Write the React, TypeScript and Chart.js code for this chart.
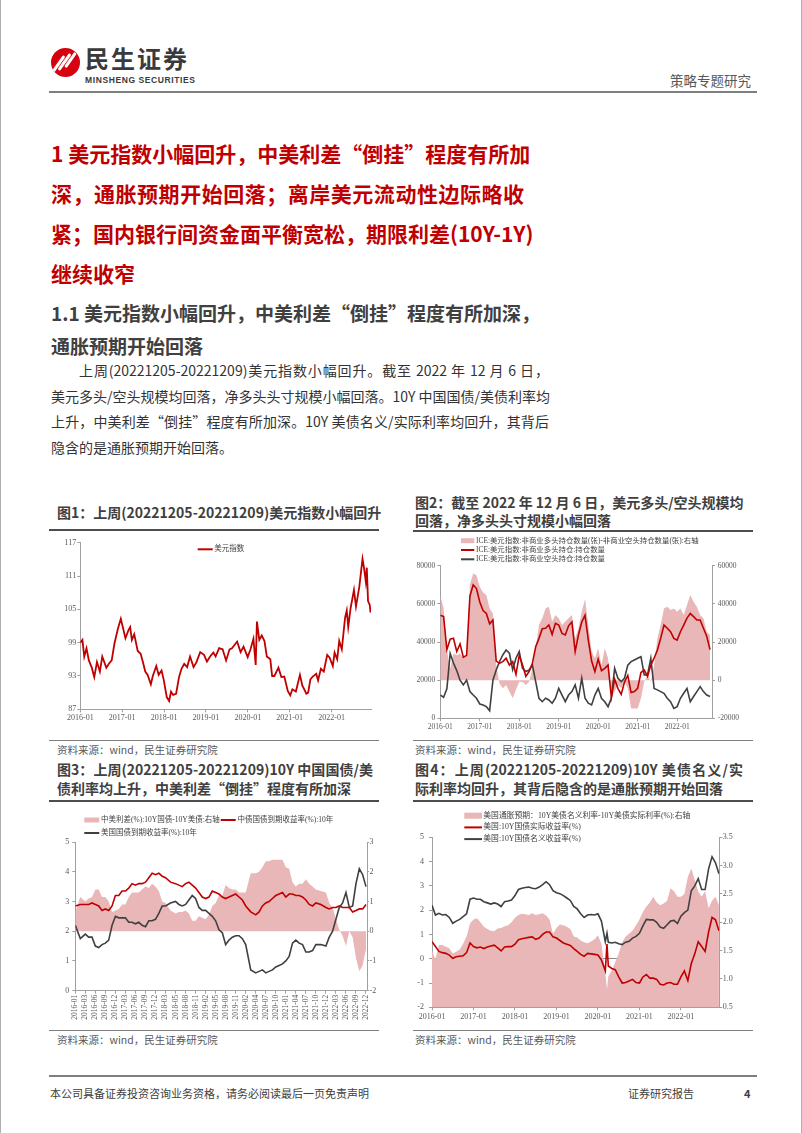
import React, { useEffect, useRef } from 'react';
import { Chart, registerables } from 'chart.js';

Chart.register(...registerables);

// ---------------- data ----------------
const yearTickLabels = ['2016-01', '2017-01', '2018-01', '2019-01', '2020-01', '2021-01', '2022-01'];

// Chart 1: US dollar index
const dxyLabel = '美元指数';
const dxyDates = [
  '2016-01-01', '2016-01-20', '2016-02-05', '2016-02-25', '2016-03-15', '2016-04-10', '2016-05-01', '2016-05-25',
  '2016-06-20', '2016-07-10', '2016-08-15', '2016-09-10', '2016-10-01', '2016-10-25', '2016-11-25', '2016-12-20',
  '2017-01-10', '2017-01-30', '2017-02-25', '2017-03-10', '2017-03-25', '2017-04-15', '2017-05-15', '2017-06-10',
  '2017-06-30', '2017-07-20', '2017-08-10', '2017-09-08', '2017-09-25', '2017-10-25', '2017-11-15', '2017-12-10',
  '2017-12-30', '2018-01-25', '2018-02-15', '2018-03-01', '2018-03-20', '2018-04-15', '2018-05-10', '2018-06-01',
  '2018-06-25', '2018-07-20', '2018-08-15', '2018-09-15', '2018-10-10', '2018-11-12', '2018-12-15', '2019-01-10',
  '2019-02-10', '2019-03-05', '2019-03-25', '2019-04-25', '2019-05-25', '2019-06-25', '2019-07-25', '2019-08-15',
  '2019-09-30', '2019-10-30', '2019-11-25', '2019-12-31', '2020-01-25', '2020-02-20', '2020-03-09', '2020-03-20',
  '2020-04-10', '2020-05-01', '2020-05-25', '2020-06-15', '2020-07-15', '2020-07-31', '2020-08-20', '2020-09-25',
  '2020-10-20', '2020-11-15', '2020-12-15', '2021-01-06', '2021-01-25', '2021-02-25', '2021-03-30', '2021-04-20',
  '2021-05-25', '2021-06-10', '2021-06-30', '2021-07-20', '2021-08-20', '2021-09-05', '2021-09-30', '2021-10-25',
  '2021-11-24', '2021-12-15', '2022-01-12', '2022-01-28', '2022-02-20', '2022-03-07', '2022-03-30', '2022-04-28',
  '2022-05-12', '2022-05-25', '2022-06-15', '2022-07-14', '2022-08-01', '2022-08-30', '2022-09-28', '2022-10-10',
  '2022-10-26', '2022-11-04', '2022-11-15', '2022-11-30', '2022-12-05', '2022-12-09',
];
const dxyValues = [
  99.0, 99.5, 96.5, 98.0, 95.8, 94.5, 92.8, 95.5,
  93.8, 96.5, 94.5, 95.3, 95.8, 98.8, 101.5, 103.3,
  101.5, 99.8, 101.2, 101.8, 99.5, 100.5, 97.5, 97.0,
  95.5, 93.8, 93.2, 91.5, 93.0, 94.8, 93.2, 94.0,
  92.2, 89.2, 88.5, 90.2, 89.6, 89.8, 92.8, 94.3,
  95.2, 94.6, 96.5, 94.6, 95.5, 97.3, 96.8, 95.6,
  96.6, 97.2, 96.5, 98.0, 97.8, 95.8, 97.8, 98.0,
  99.2, 97.3, 98.3, 96.4, 97.8, 99.7, 95.0, 102.8,
  99.5, 100.3, 99.3, 96.5, 96.0, 93.0, 93.0, 94.5,
  92.8, 92.9, 90.3, 89.5, 90.6, 90.2, 93.2, 91.3,
  89.8, 90.0, 92.4, 92.9, 93.4, 92.2, 94.3, 93.8,
  96.8, 96.3, 94.8, 97.2, 96.0, 99.3, 97.8, 103.5,
  104.8, 101.8, 105.2, 108.5, 105.5, 109.0, 114.1, 112.5,
  110.0, 112.5, 106.5, 105.8, 104.6, 105.0,
];
const dxyTicks = [87, 93, 99, 105, 111, 117];

// Chart 2: ICE dollar index positions (monthly from 2016-01)
const cotLabels = [
  'ICE:美元指数:非商业多头持仓数量(张)-非商业空头持仓数量(张):右轴',
  'ICE:美元指数:非商业多头持仓:持仓数量',
  'ICE:美元指数:非商业空头持仓:持仓数量',
];
const cotLong = [
  54000, 53300, 36000, 41500, 42000, 35000, 39000, 32000, 33000, 64000,
  70000, 68000, 61000, 56500, 55000, 49500, 51500, 30000, 28800, 29700,
  31500, 27900, 29700, 23000, 33000, 28000, 22000, 24500, 28800, 37500,
  41900, 47000, 47200, 48900, 44000, 49800, 48900, 44500, 43700, 48500,
  50500, 35000, 43700, 50500, 54000, 41000, 30000, 24500, 31000, 25000,
  26200, 27900, 11000, 20500, 15700, 12500, 19000, 22500, 13500, 14000,
  15700, 24000, 25300, 22000, 27900, 31500, 35800, 41900, 48900, 47200,
  45400, 41900, 41000, 45400, 48900, 52500, 55000, 53300, 51500, 51500,
  47200, 43000, 36000,
];
const cotShort = [
  12200, 11000, 15500, 34000, 29000, 25000, 20000, 17500, 20000, 14000,
  12200, 10500, 7500, 7000, 6100, 4000, 20000, 25300, 29700, 33200,
  35800, 34100, 25500, 31500, 35000, 26200, 24500, 25300, 27900, 19200,
  10500, 8700, 10500, 9600, 7900, 10500, 15700, 12200, 8700, 12200,
  14000, 17500, 10500, 21000, 10500, 7900, 7000, 12200, 15700, 10500,
  8700, 6100, 10500, 26200, 21000, 19200, 21000, 27900, 29700, 30600,
  31500, 32300, 22700, 22700, 31500, 15700, 14900, 14000, 13100, 10500,
  8700, 5200, 6100, 10500, 13100, 15700, 8700, 11400, 14000, 16600,
  14000, 12200, 11400,
];
const cotNet = [
  44000, 38000, 16000, 6000, 14000, 13000, 14000, 11500, 13000, 50000,
  56000, 55000, 49000, 46000, 44600, 37600, 35000, 8000, -1700, -4300,
  -2500, -6000, -9500, -5000, -800, -1000, -2500, -800, 6000, 16700,
  28900, 32400, 37600, 38500, 30700, 34200, 32400, 28900, 30700, 32400,
  34200, 21900, 27200, 35900, 42500, 28900, 15000, 11500, 16700, 8000,
  16700, 11500, -9500, -6000, -2500, -4300, -800, -4300, -14800, -14800,
  -14800, -9500, -800, 2700, -800, 8000, 21900, 28900, 37600, 38500,
  36800, 37600, 35900, 37600, 34200, 39400, 44600, 41100, 38500, 34200,
  32400, 25400, 23700,
];

// Chart 3: China / US 10Y yields (monthly from 2016-01)
const c3Labels = ['中美利差(%):10Y国债-10Y美债:右轴', '中债国债到期收益率(%):10年', '美国国债到期收益率(%):10年'];
const c3TickLabels = [
  '2016-01', '2016-03', '2016-06', '2016-09', '2016-12', '2017-03', '2017-06', '2017-09', '2017-12', '2018-03',
  '2018-05', '2018-08', '2018-11', '2019-02', '2019-05', '2019-08', '2019-11', '2020-02', '2020-04', '2020-07',
  '2020-10', '2021-01', '2021-04', '2021-07', '2021-10', '2021-12', '2022-03', '2022-06', '2022-09', '2022-12',
];
const cn10y = [
  2.85, 2.9, 2.9, 2.9, 2.95, 2.9, 2.85, 2.7, 2.75, 2.7,
  2.85, 3.2, 3.2, 3.35, 3.35, 3.45, 3.6, 3.55, 3.6, 3.6,
  3.65, 3.8, 3.95, 3.9, 3.95, 3.85, 3.8, 3.65, 3.6, 3.55,
  3.5, 3.6, 3.65, 3.55, 3.45, 3.3, 3.15, 3.1, 3.15, 3.35,
  3.3, 3.25, 3.15, 3.1, 3.15, 3.2, 3.25, 3.15, 3.05, 2.85,
  2.65, 2.55, 2.65, 2.85, 2.95, 3.0, 3.1, 3.2, 3.25, 3.3,
  3.15, 3.25, 3.25, 3.2, 3.2, 3.15, 3.05, 2.9, 2.85, 2.95,
  2.9, 2.8, 2.75, 2.8, 2.8, 2.85, 2.8, 2.8, 2.8, 2.65,
  2.7, 2.75, 2.75, 2.9,
];
const us10y = [
  2.2, 1.75, 1.9, 1.8, 1.8, 1.5, 1.45, 1.55, 1.6, 1.7,
  2.2, 2.5, 2.45, 2.45, 2.45, 2.3, 2.3, 2.25, 2.3, 2.2,
  2.15, 2.35, 2.35, 2.4, 2.6, 2.85, 2.85, 2.95, 3.0, 2.9,
  2.85, 2.9, 3.05, 3.2, 3.1, 2.8, 2.7, 2.7, 2.6, 2.5,
  2.35, 2.05, 1.95, 1.55, 1.7, 1.8, 1.85, 1.85, 1.75, 1.55,
  0.7, 0.6, 0.65, 0.7, 0.6, 0.65, 0.7, 0.8, 0.85, 0.9,
  1.0, 1.15, 1.6, 1.7, 1.6, 1.55, 1.3, 1.3, 1.35, 1.55,
  1.55, 1.5, 1.8, 2.0, 2.4, 2.8, 2.95, 3.3, 2.8, 2.85,
  3.6, 4.1, 3.9, 3.5,
];
const cnUsSpread = [
  0.65, 1.15, 1.0, 1.1, 1.15, 1.4, 1.4, 1.15, 1.15, 1.0,
  0.65, 0.7, 0.75, 0.9, 0.9, 1.15, 1.3, 1.3, 1.3, 1.4,
  1.5, 1.45, 1.6, 1.5, 1.35, 1.0, 0.95, 0.7, 0.6, 0.65,
  0.65, 0.7, 0.6, 0.35, 0.35, 0.5, 0.45, 0.4, 0.55, 0.85,
  0.95, 1.2, 1.2, 1.55, 1.45, 1.4, 1.4, 1.3, 1.3, 1.3,
  1.95, 1.95, 2.0, 2.15, 2.35, 2.35, 2.4, 2.4, 2.4, 2.4,
  2.15, 2.1, 1.65, 1.5, 1.6, 1.6, 1.75, 1.6, 1.5, 1.4,
  1.35, 1.3, 0.95, 0.8, 0.4, 0.05, -0.15, -0.5, 0.0, -0.2,
  -0.9, -1.35, -1.15, -0.6,
];

// Chart 4: US nominal / real 10Y and breakeven (monthly, March 2020 split in two)
const c4Labels = ['美国通胀预期：10Y美债名义利率-10Y美债实际利率(%):右轴', '美国:10Y国债实际收益率(%)', '美国:10Y国债名义收益率(%)'];
const usReal = [
  0.7, 0.5, 0.3, 0.25, 0.22, 0.15, 0.02, 0.08, 0.1, 0.12,
  0.25, 0.65, 0.5, 0.45, 0.48, 0.42, 0.48, 0.52, 0.56, 0.45,
  0.32, 0.48, 0.5, 0.5, 0.6, 0.78, 0.82, 0.85, 0.88, 0.9,
  0.8, 0.85, 1.0, 1.1, 1.1, 0.9, 0.85, 0.75, 0.65, 0.6,
  0.55, 0.42, 0.3, 0.18, 0.1, 0.22, 0.2, 0.18, 0.15, -0.05,
  -0.5, 0.6,
  -0.3, -0.4, -0.45, -0.75, -1.0, -0.98, -0.92, -0.85, -0.98,
  -1.0, -0.75, -0.65, -0.8, -0.8, -0.85, -1.05, -1.08, -1.0, -0.98,
  -1.05, -1.05, -0.75, -0.5, -0.9, -0.2, 0.2, 0.7, 0.5, 0.3,
  1.1, 1.7, 1.6, 1.15,
];
const usNominal = [
  2.2, 1.8, 1.87, 1.8, 1.82, 1.7, 1.46, 1.55, 1.62, 1.73,
  1.85, 2.45, 2.5, 2.45, 2.45, 2.35, 2.3, 2.25, 2.3, 2.25,
  2.15, 2.35, 2.38, 2.42, 2.6, 2.85, 2.9, 2.93, 2.95, 2.9,
  2.88, 2.95, 3.05, 3.17, 3.05, 2.8, 2.72, 2.68, 2.6, 2.5,
  2.4, 2.15, 2.05, 1.85, 1.7, 1.8, 1.82, 1.8, 1.85, 1.55,
  0.7, 1.05,
  0.68, 0.65, 0.68, 0.62, 0.58, 0.68, 0.72, 0.85, 0.92,
  1.05, 1.35, 1.62, 1.6, 1.6, 1.5, 1.3, 1.25, 1.4, 1.55,
  1.58, 1.45, 1.75, 1.9, 2.0, 2.8, 3.0, 3.3, 2.85, 2.85,
  3.7, 4.2, 3.95, 3.5,
];
const usBreakeven = [
  1.5, 1.35, 1.6, 1.6, 1.57, 1.54, 1.45, 1.48, 1.52, 1.62,
  1.75, 1.98, 2.05, 2.07, 2.0, 1.92, 1.88, 1.85, 1.84, 1.89,
  1.9, 1.93, 1.95, 2.0, 2.08, 2.13, 2.15, 2.14, 2.13, 2.16,
  2.13, 2.14, 2.16, 2.12, 2.05, 1.8, 1.9, 1.96, 1.95, 1.92,
  1.88, 1.75, 1.73, 1.68, 1.65, 1.63, 1.66, 1.7, 1.77, 1.62,
  1.1, 0.82,
  1.05, 1.15, 1.3, 1.45, 1.65, 1.75, 1.8, 1.85, 1.95,
  2.05, 2.18, 2.28, 2.35, 2.45, 2.35, 2.3, 2.33, 2.38, 2.6,
  2.55, 2.45, 2.45, 2.5, 2.8, 2.95, 2.75, 2.55, 2.45, 2.55,
  2.25, 2.38, 2.45, 2.3,
];

// ---------------- helpers ----------------
function monthName(i: number): string {
  const y = 2016 + Math.floor(i / 12);
  const m = (i % 12) + 1;
  return `${y}-${m < 10 ? '0' + m : m}`;
}
function monthList(start: number, count: number): string[] {
  const out: string[] = [];
  for (let i = start; i < start + count; i++) out.push(monthName(i));
  return out;
}
function monthPos(d: string): number {
  const p = d.split('-').map(Number);
  return (p[0] - 2016) * 12 + (p[1] - 1) + (p[2] ? (p[2] - 1) / 31 : 0);
}
const yearTickMonths = yearTickLabels.map(monthPos);
const cotMonths = monthList(0, 83);
const c3Months = monthList(0, 84);
const c4Dates = [...monthList(0, 50), '2020-03-05', '2020-03-20', ...monthList(51, 33)];
const c3TickMonths = c3TickLabels.map(monthPos);
function slotOf(mv: number): number {
  const t = c3TickMonths;
  for (let i = 0; i < t.length - 1; i++) {
    if (mv <= t[i + 1]) return i + (mv - t[i]) / (t[i + 1] - t[i]);
  }
  const n = t.length - 1;
  return n + (mv - t[n]) / (t[n] - t[n - 1]);
}

const SERIF = '"Liberation Serif", "DejaVu Serif", serif';
const LEGEND_FONT = '"Liberation Serif", "Noto Sans CJK SC", serif';
const CJK = '"Noto Sans CJK SC", "Noto Sans", sans-serif';
const RED = '#c00000';
const DARK = '#404040';
const PINK = '#e9b7b7';
const AXIS = '#a0a0a0';
const TICK = '#595959';

type LegendCfg = { x: number; y: number; rowGap: number; rows: number[][]; fontSize: number; symbolW: number; boxH: number; textGap: number; itemGap: number };

function rowLegend(cfg: LegendCfg) {
  return {
    id: 'rowLegend',
    afterDraw(chart: any) {
      const ctx = chart.ctx as CanvasRenderingContext2D;
      ctx.save();
      ctx.font = `${cfg.fontSize}px ${LEGEND_FONT}`;
      ctx.textBaseline = 'middle';
      ctx.textAlign = 'left';
      cfg.rows.forEach((row, r) => {
        let x = cfg.x;
        const y = cfg.y + r * cfg.rowGap;
        row.forEach((idx) => {
          const ds = chart.data.datasets[idx];
          if (ds.fill) {
            ctx.fillStyle = ds.backgroundColor;
            ctx.fillRect(x, y - cfg.boxH / 2, cfg.symbolW, cfg.boxH);
          } else {
            ctx.strokeStyle = ds.borderColor;
            ctx.lineWidth = 2;
            ctx.beginPath();
            ctx.moveTo(x, y);
            ctx.lineTo(x + cfg.symbolW, y);
            ctx.stroke();
          }
          x += cfg.symbolW + cfg.textGap;
          ctx.fillStyle = DARK;
          ctx.fillText(ds.label, x, y);
          x += ctx.measureText(ds.label).width + cfg.itemGap;
        });
      });
      ctx.restore();
    },
  };
}

function yearAxis(max: number, height: number, size: number, padding: number) {
  return {
    type: 'linear',
    min: 0,
    max,
    afterBuildTicks: (s: any) => {
      s.ticks = yearTickMonths.map((v) => ({ value: v }));
    },
    afterFit: (s: any) => {
      s.height = height;
    },
    ticks: {
      autoSkip: false,
      maxRotation: 0,
      minRotation: 0,
      padding,
      color: TICK,
      font: { family: SERIF, size },
      callback: (_v: any, i: number) => yearTickLabels[i],
    },
    grid: { drawOnChartArea: false, drawTicks: true, tickLength: 3, color: AXIS },
    border: { display: true, color: AXIS },
  };
}

function valueAxis(o: { pos: string; min: number; max: number; step: number; width: number; padding: number; size: number; fmt?: (v: number) => string; zeroLine?: boolean; tickLength?: number }) {
  return {
    type: 'linear',
    position: o.pos,
    min: o.min,
    max: o.max,
    afterFit: (s: any) => {
      s.width = o.width;
    },
    ticks: {
      stepSize: o.step,
      padding: o.padding,
      color: TICK,
      font: { family: SERIF, size: o.size },
      callback: (v: number) => (o.fmt ? o.fmt(v) : String(v)),
    },
    grid: {
      drawOnChartArea: !!o.zeroLine,
      drawTicks: true,
      tickLength: o.tickLength ?? 3,
      color: o.zeroLine ? (c: any) => (c.tick && c.tick.value === 0 ? '#8c8c8c' : 'rgba(0,0,0,0)') : AXIS,
      tickColor: AXIS,
    },
    border: { display: true, color: AXIS },
  };
}

const baseOptions = {
  animation: false,
  responsive: false,
  events: [],
  elements: { point: { radius: 0 }, line: { tension: 0 } },
};

function chart1(): any {
  return {
    type: 'line',
    data: {
      datasets: [
        { label: dxyLabel, data: dxyDates.map((d, i) => ({ x: monthPos(d), y: dxyValues[i] })), borderColor: RED, borderWidth: 1.8, fill: false },
      ],
    },
    options: {
      ...baseOptions,
      layout: { padding: { left: 0, right: 10, top: 10.7, bottom: 0 } },
      plugins: { legend: { display: false }, tooltip: { enabled: false } },
      scales: {
        x: yearAxis(83.3, 22.7, 8, 1),
        y: valueAxis({ pos: 'left', min: dxyTicks[0], max: dxyTicks[dxyTicks.length - 1], step: dxyTicks[1] - dxyTicks[0], width: 31.3, padding: 1, size: 8 }),
      },
    },
    plugins: [rowLegend({ x: 148.7, y: 17.3, rowGap: 0, rows: [[0]], fontSize: 7.5, symbolW: 15, boxH: 5, textGap: 1.5, itemGap: 0 })],
  };
}

function chart2(): any {
  const pts = (arr: number[]) => arr.map((v, i) => ({ x: monthPos(cotMonths[i]), y: v }));
  return {
    type: 'line',
    data: {
      datasets: [
        { label: cotLabels[0], data: pts(cotNet), yAxisID: 'y1', fill: 'origin', backgroundColor: PINK, borderColor: 'rgba(0,0,0,0)', borderWidth: 0, order: 3 },
        { label: cotLabels[1], data: pts(cotLong), yAxisID: 'y', fill: false, borderColor: RED, borderWidth: 1.6, order: 1 },
        { label: cotLabels[2], data: pts(cotShort), yAxisID: 'y', fill: false, borderColor: DARK, borderWidth: 1.6, order: 2 },
      ],
    },
    options: {
      ...baseOptions,
      layout: { padding: { left: 0, right: 0, top: 33.7, bottom: 0 } },
      plugins: { legend: { display: false }, tooltip: { enabled: false } },
      scales: {
        x: yearAxis(82.6, 16.7, 7.5, 1),
        y: valueAxis({ pos: 'left', min: 0, max: 80000, step: 20000, width: 27.3, padding: 2, size: 7.5 }),
        y1: valueAxis({ pos: 'right', min: -20000, max: 60000, step: 20000, width: 41, padding: 2.7, size: 7.5 }),
      },
    },
    plugins: [rowLegend({ x: 48, y: 8.7, rowGap: 9.3, rows: [[0], [1], [2]], fontSize: 7.4, symbolW: 13.3, boxH: 5, textGap: 1.7, itemGap: 0 })],
  };
}

function chart3(): any {
  const pts = (arr: number[]) => arr.map((v, i) => ({ x: slotOf(monthPos(c3Months[i])), y: v }));
  return {
    type: 'line',
    data: {
      datasets: [
        { label: c3Labels[0], data: pts(cnUsSpread), yAxisID: 'y1', fill: 'origin', backgroundColor: PINK, borderColor: 'rgba(0,0,0,0)', borderWidth: 0, order: 3 },
        { label: c3Labels[1], data: pts(cn10y), yAxisID: 'y', fill: false, borderColor: RED, borderWidth: 1.6, order: 2 },
        { label: c3Labels[2], data: pts(us10y), yAxisID: 'y', fill: false, borderColor: DARK, borderWidth: 1.6, order: 1 },
      ],
    },
    options: {
      ...baseOptions,
      layout: { padding: { left: 0, right: 0, top: 39, bottom: 0 } },
      plugins: { legend: { display: false }, tooltip: { enabled: false } },
      scales: {
        x: {
          type: 'linear',
          min: 0,
          max: 29.1,
          afterBuildTicks: (s: any) => {
            s.ticks = c3TickLabels.map((_l, i) => ({ value: i }));
          },
          afterFit: (s: any) => {
            s.height = 37.3;
          },
          ticks: {
            autoSkip: false,
            minRotation: 90,
            maxRotation: 90,
            padding: 1,
            color: TICK,
            font: { family: SERIF, size: 7.5 },
            callback: (_v: any, i: number) => c3TickLabels[i],
          },
          grid: { drawOnChartArea: false, drawTicks: true, tickLength: 3, color: AXIS },
          border: { display: true, color: AXIS },
        },
        y: valueAxis({ pos: 'left', min: 0, max: 5, step: 1, width: 26.3, padding: 3, size: 8 }),
        y1: valueAxis({ pos: 'right', min: -2, max: 3, step: 1, width: 14, padding: 0.5, size: 8, tickLength: 2 }),
      },
    },
    plugins: [rowLegend({ x: 35.3, y: 17, rowGap: 13, rows: [[0, 1], [2]], fontSize: 7.5, symbolW: 15, boxH: 5, textGap: 1.7, itemGap: 1 })],
  };
}

function chart4(): any {
  const pts = (arr: number[]) => arr.map((v, i) => ({ x: monthPos(c4Dates[i]), y: v }));
  return {
    type: 'line',
    data: {
      datasets: [
        { label: c4Labels[0], data: pts(usBreakeven), yAxisID: 'y1', fill: 'start', backgroundColor: PINK, borderColor: 'rgba(0,0,0,0)', borderWidth: 0, order: 3 },
        { label: c4Labels[1], data: pts(usReal), yAxisID: 'y', fill: false, borderColor: RED, borderWidth: 1.6, order: 2 },
        { label: c4Labels[2], data: pts(usNominal), yAxisID: 'y', fill: false, borderColor: DARK, borderWidth: 1.6, order: 1 },
      ],
    },
    options: {
      ...baseOptions,
      layout: { padding: { left: 0, right: 0, top: 34.3, bottom: 0 } },
      plugins: { legend: { display: false }, tooltip: { enabled: false } },
      scales: {
        x: yearAxis(83.1, 20.7, 8, 1.5),
        y: valueAxis({ pos: 'left', min: -2, max: 5, step: 1, width: 19, padding: 5, size: 8, zeroLine: true }),
        y1: valueAxis({ pos: 'right', min: 0.5, max: 3.5, step: 0.5, width: 33.7, padding: 0.5, size: 8, fmt: (v) => v.toFixed(1) }),
      },
    },
    plugins: [rowLegend({ x: 51.3, y: 12.7, rowGap: 11.7, rows: [[0], [1], [2]], fontSize: 7.8, symbolW: 17.7, boxH: 6, textGap: 1.3, itemGap: 0 })],
  };
}

function ChartCanvas({ left, top, width, height, build }: { left: number; top: number; width: number; height: number; build: () => any }) {
  const ref = useRef<HTMLCanvasElement | null>(null);
  useEffect(() => {
    if (!ref.current) return;
    const c = new Chart(ref.current, build());
    return () => c.destroy();
  }, []);
  return <canvas ref={ref} width={width} height={height} style={{ position: 'absolute', left, top, width, height }} />;
}

const abs = (s: React.CSSProperties): React.CSSProperties => ({ position: 'absolute', whiteSpace: 'nowrap', margin: 0, ...s });
const jl: React.CSSProperties = { textAlign: 'justify', textAlignLast: 'justify' } as React.CSSProperties;

function Rule({ left, top, width, height, color }: { left: number; top: number; width: number; height: number; color: string }) {
  return <div style={{ position: 'absolute', left, top, width, height, background: color }} />;
}

export default function App() {
  const caption = '资料来源：wind，民生证券研究院';
  return (
    <div
      style={{
        position: 'absolute',
        left: 0,
        top: 0,
        width: 802,
        height: 1133,
        background: '#fff',
        overflow: 'hidden',
        boxSizing: 'border-box',
        borderLeft: '1px solid #b0b0b0',
        borderRight: '1px solid #b0b0b0',
        fontFamily: CJK,
      }}
    >
      {/* header */}
      <div style={{ position: 'absolute', left: 50, top: 48, width: 29, height: 29, borderRadius: '50%', background: '#d7000f', overflow: 'hidden' }}>
        <div style={{ position: 'absolute', left: 6, top: 6, width: 3, height: 20, background: '#fff', transform: 'rotate(35deg)', borderRadius: 2 }} />
        <div style={{ position: 'absolute', left: 12, top: 4, width: 3, height: 20, background: '#fff', transform: 'rotate(35deg)', borderRadius: 2 }} />
        <div style={{ position: 'absolute', left: 18, top: 3, width: 3, height: 18, background: '#fff', transform: 'rotate(35deg)', borderRadius: 2 }} />
      </div>
      <div style={abs({ left: 84, top: 44, fontSize: 24, lineHeight: '28px', fontWeight: 700, color: '#3a3a3a', letterSpacing: 2 })}>民生证券</div>
      <div style={abs({ left: 84, top: 74.5, fontSize: 8.5, lineHeight: '10px', fontWeight: 700, color: '#3a3a3a', letterSpacing: 0.6, fontFamily: '"Liberation Sans Narrow", "Liberation Sans", sans-serif' })}>
        MINSHENG SECURITIES
      </div>
      <div style={abs({ right: 50, top: 72, fontSize: 13.5, lineHeight: '16px', color: '#595959' })}>策略专题研究</div>
      <Rule left={48} top={91} width={708} height={2} color="#7f7f7f" />

      {/* headings */}
      <div style={abs({ left: 50, top: 133, width: 473, fontSize: 21, lineHeight: '40px', fontWeight: 700, color: RED })}>
        <div style={jl}>1 美元指数小幅回升，中美利差“倒挂”程度有所加</div>
        <div style={jl}>深，通胀预期开始回落；离岸美元流动性边际略收</div>
        <div>紧；国内银行间资金面平衡宽松，期限利差(10Y-1Y)</div>
        <div>继续收窄</div>
      </div>
      <div style={abs({ left: 50, top: 295.5, width: 472, fontSize: 19, lineHeight: '33px', fontWeight: 700, color: DARK })}>
        <div style={jl}>1.1 美元指数小幅回升，中美利差“倒挂”程度有所加深，</div>
        <div>通胀预期开始回落</div>
      </div>

      {/* body */}
      <div style={abs({ left: 50, top: 358, width: 498, fontSize: 14, lineHeight: '25.5px', color: '#333' })}>
        <div style={{ ...jl, paddingLeft: 28 }}>上周(20221205-20221209)美元指数小幅回升。截至 2022 年 12 月 6 日，</div>
        <div style={jl}>美元多头/空头规模均回落，净多头头寸规模小幅回落。10Y 中国国债/美债利率均</div>
        <div style={jl}>上升，中美利差“倒挂”程度有所加深。10Y 美债名义/实际利率均回升，其背后</div>
        <div>隐含的是通胀预期开始回落。</div>
      </div>

      {/* chart titles top */}
      <div style={abs({ left: 56, top: 503, fontSize: 14, lineHeight: '18px', fontWeight: 700, color: DARK })}>图1：上周(20221205-20221209)美元指数小幅回升</div>
      <div style={abs({ left: 414, top: 492.5, width: 328, fontSize: 14, lineHeight: '18px', fontWeight: 700, color: DARK })}>
        <div style={jl}>图2：截至 2022 年 12 月 6 日，美元多头/空头规模均</div>
        <div>回落，净多头头寸规模小幅回落</div>
      </div>
      <Rule left={48} top={529} width={330} height={2} color="#4d4d4d" />
      <Rule left={412} top={529.5} width={340} height={2} color="#4d4d4d" />

      <ChartCanvas left={48} top={532} width={332} height={200} build={chart1} />
      <ChartCanvas left={412} top={532} width={340} height={203} build={chart2} />

      <Rule left={48} top={739.5} width={330} height={1.5} color="#7f7f7f" />
      <Rule left={412} top={739.5} width={340} height={1.5} color="#7f7f7f" />
      <div style={abs({ left: 56, top: 743, fontSize: 10.5, lineHeight: '14px', color: '#595959' })}>{caption}</div>
      <div style={abs({ left: 414, top: 743, fontSize: 10.5, lineHeight: '14px', color: '#595959' })}>{caption}</div>

      {/* chart titles bottom */}
      <div style={abs({ left: 56, top: 760, width: 316, fontSize: 14, lineHeight: '19px', fontWeight: 700, color: DARK })}>
        <div style={jl}>图3：上周(20221205-20221209)10Y 中国国债/美</div>
        <div>债利率均上升，中美利差“倒挂”程度有所加深</div>
      </div>
      <div style={abs({ left: 414, top: 760, width: 328, fontSize: 14, lineHeight: '19px', fontWeight: 700, color: DARK })}>
        <div style={jl}>图4：上周(20221205-20221209)10Y 美债名义/实</div>
        <div>际利率均回升，其背后隐含的是通胀预期开始回落</div>
      </div>
      <Rule left={48} top={800} width={330} height={2} color="#4d4d4d" />
      <Rule left={412} top={800} width={340} height={2} color="#4d4d4d" />

      <ChartCanvas left={48} top={803} width={332} height={225} build={chart3} />
      <ChartCanvas left={412} top={803} width={340} height={225} build={chart4} />

      <Rule left={48} top={1029.5} width={330} height={1.5} color="#7f7f7f" />
      <Rule left={412} top={1029.5} width={340} height={1.5} color="#7f7f7f" />
      <div style={abs({ left: 56, top: 1033, fontSize: 10.5, lineHeight: '14px', color: '#595959' })}>{caption}</div>
      <div style={abs({ left: 414, top: 1033, fontSize: 10.5, lineHeight: '14px', color: '#595959' })}>{caption}</div>

      {/* footer */}
      <Rule left={48} top={1075} width={708} height={1.5} color="#7f7f7f" />
      <div style={abs({ left: 49, top: 1086, fontSize: 11, lineHeight: '14px', color: DARK })}>本公司具备证券投资咨询业务资格，请务必阅读最后一页免责声明</div>
      <div style={abs({ left: 627, top: 1086, fontSize: 11, lineHeight: '14px', color: DARK })}>证券研究报告</div>
      <div style={abs({ left: 743, top: 1086, fontSize: 11, lineHeight: '14px', color: DARK, fontWeight: 700 })}>4</div>
    </div>
  );
}
